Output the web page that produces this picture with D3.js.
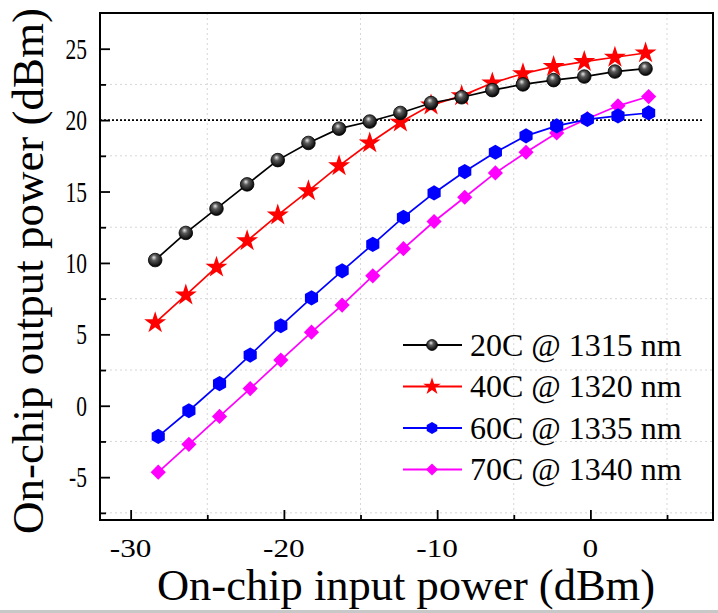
<!DOCTYPE html>
<html>
<head>
<meta charset="utf-8">
<script src="https://cdn.jsdelivr.net/npm/d3@7"></script>
<style>
    body { margin: 0; background: #fff; }
    svg text { font-family: "Liberation Serif", "DejaVu Serif", serif; fill: #000; }
</style>
</head>
<body>
<svg id="chart" width="718" height="613"></svg>
<script>
// input power (dBm)
var xRedBlack = [-28.4, -26.4, -24.4, -22.4, -20.4, -18.4, -16.4, -14.4, -12.4, -10.4, -8.4, -6.4, -4.4, -2.4, -0.4, 1.6, 3.6];
var xBlueMag = [-28.2, -26.2, -24.2, -22.2, -20.2, -18.2, -16.2, -14.2, -12.2, -10.2, -8.2, -6.2, -4.2, -2.2, -0.2, 1.8, 3.8];

// output power (dBm)
var y20C = [10.2, 12.1, 13.8, 15.5, 17.2, 18.4, 19.4, 19.9, 20.5, 21.2, 21.6, 22.1, 22.5, 22.8, 23.05, 23.4, 23.6];
var y40C = [5.8, 7.75, 9.7, 11.55, 13.35, 15.05, 16.8, 18.4, 19.85, 21.05, 21.7, 22.6, 23.25, 23.75, 24.1, 24.4, 24.7];
var y60C = [-2.15, -0.35, 1.55, 3.55, 5.6, 7.55, 9.45, 11.3, 13.2, 14.9, 16.4, 17.75, 18.9, 19.6, 20.05, 20.3, 20.5];
var y70C = [-4.65, -2.7, -0.75, 1.2, 3.2, 5.15, 7.05, 9.1, 11.0, 12.9, 14.6, 16.3, 17.75, 19.1, 20.1, 21.0, 21.65];

var seriesNames = ['20C @ 1315 nm', '40C @ 1320 nm', '60C @ 1335 nm', '70C @ 1340 nm'];
var seriesColors = ['#000000', '#ff0000', '#0000ff', '#ff00ff'];
var seriesMarkers = ['ball', 'star', 'hex', 'diamond'];

var xTicks = [-30, -20, -10, 0];
var yTicks = [-5, 0, 5, 10, 15, 20, 25];
var refLevel = 20;

var series = [
    { name: seriesNames[0], xs: xRedBlack, ys: y20C },
    { name: seriesNames[1], xs: xRedBlack, ys: y40C },
    { name: seriesNames[2], xs: xBlueMag, ys: y60C },
    { name: seriesNames[3], xs: xBlueMag, ys: y70C }
];

var svg = d3.select('#chart');
var box = { left: 100, right: 713, top: 13, bottom: 520 };

var x = d3.scaleLinear().domain([-32, 8]).range([box.left, box.right]);
var y = d3.scaleLinear().domain([-8, 27.5]).range([box.bottom, box.top]);

// gradient for the shiny black balls
var defs = svg.append('defs');
var grad = defs.append('radialGradient')
    .attr('id', 'ballGrad')
    .attr('cx', '45%').attr('cy', '40%').attr('r', '60%')
    .attr('fx', '40%').attr('fy', '30%');
grad.append('stop').attr('offset', '0%').attr('stop-color', '#e8e8e8');
grad.append('stop').attr('offset', '35%').attr('stop-color', '#5a5a5a');
grad.append('stop').attr('offset', '100%').attr('stop-color', '#000');

// dotted grid on the half-steps
var xGrid = d3.range(-25, 8, 10);
var yGrid = d3.range(-7.5, 27, 5);
svg.append('g').selectAll('line.gx')
    .data(xGrid).enter().append('line')
    .attr('x1', function(d) { return x(d); }).attr('x2', function(d) { return x(d); })
    .attr('y1', box.top).attr('y2', box.bottom)
    .attr('stroke', '#d6d6d6').attr('stroke-width', 1).attr('stroke-dasharray', '2,3');
svg.append('g').selectAll('line.gy')
    .data(yGrid).enter().append('line')
    .attr('y1', function(d) { return y(d); }).attr('y2', function(d) { return y(d); })
    .attr('x1', box.left).attr('x2', box.right)
    .attr('stroke', '#d6d6d6').attr('stroke-width', 1).attr('stroke-dasharray', '2,3');

// 20 dBm reference line
svg.append('line')
    .attr('x1', box.left).attr('x2', 703)
    .attr('y1', y(refLevel)).attr('y2', y(refLevel))
    .attr('stroke', '#000').attr('stroke-width', 1.6).attr('stroke-dasharray', '2,2');

// ticks point inward, minor ones shorter
var xAxis = d3.axisTop(x).tickValues(d3.range(-30, 8, 5)).tickSize(0).tickFormat('');
var gx = svg.append('g').attr('transform', 'translate(0,' + box.bottom + ')').call(xAxis);
gx.select('.domain').remove();
gx.selectAll('.tick line')
    .attr('y2', function(d) { return d % 10 === 0 ? -10 : -5; })
    .attr('stroke', '#000').attr('stroke-width', 1.8);

var yAxis = d3.axisRight(y).tickValues(d3.range(-7.5, 27, 2.5)).tickSize(0).tickFormat('');
var gy = svg.append('g').attr('transform', 'translate(' + box.left + ',0)').call(yAxis);
gy.select('.domain').remove();
gy.selectAll('.tick line')
    .attr('x2', function(d) { return d % 5 === 0 ? 10 : 6; })
    .attr('stroke', '#000').attr('stroke-width', 1.8);

// tick labels (stretched like the original)
svg.append('g').selectAll('text')
    .data(xTicks).enter().append('text')
    .attr('transform', function(d) { return 'translate(' + x(d) + ',557) scale(1.25,1)'; })
    .attr('text-anchor', 'middle')
    .style('font-size', '25px')
    .text(function(d) { return d; });

svg.append('g').selectAll('text')
    .data(yTicks).enter().append('text')
    .attr('transform', function(d) { return 'translate(87,' + (y(d) + 10) + ') scale(0.74,1)'; })
    .attr('text-anchor', 'end')
    .style('font-size', '29px')
    .text(function(d) { return d; });

// frame
svg.append('rect')
    .attr('x', box.left).attr('y', box.top)
    .attr('width', box.right - box.left).attr('height', box.bottom - box.top)
    .attr('fill', 'none').attr('stroke', '#000').attr('stroke-width', 2);

// axis titles
svg.append('text')
    .attr('x', 406).attr('y', 600)
    .attr('text-anchor', 'middle')
    .style('font-size', '44.5px')
    .text('On-chip input power (dBm)');

svg.append('text')
    .attr('transform', 'translate(43,271) rotate(-90)')
    .attr('text-anchor', 'middle')
    .style('font-size', '45px')
    .text('On-chip output power (dBm)');

// marker drawing
function drawMarker (g, type, color, s) {
    if (type === 'ball') {
        g.append('circle').attr('r', 6.8 * s)
            .attr('fill', 'url(#ballGrad)').attr('stroke', '#000').attr('stroke-width', 0.8);
    } else if (type === 'star') {
        g.append('path')
            .attr('d', d3.symbol().type(d3.symbolStar).size(150 * s * s)())
            .attr('fill', color);
    } else if (type === 'hex') {
        var r = 7.6 * s, pts = [];
        for (var i = 0; i < 6; i++) {
            var a = Math.PI / 3 * i - Math.PI / 2;
            pts.push([r * Math.cos(a), r * Math.sin(a)]);
        }
        g.append('path').attr('d', 'M' + pts.join('L') + 'Z').attr('fill', color);
    } else {
        var h = 7.6 * s;
        g.append('path')
            .attr('d', 'M0,' + (-h) + 'L' + h + ',0L0,' + h + 'L' + (-h) + ',0Z')
            .attr('fill', color);
    }
}

var line = d3.line()
    .x(function(d) { return x(d[0]); })
    .y(function(d) { return y(d[1]); });

// draw series (last first so black sits on top)
series.slice().reverse().forEach(function(s, ri) {
    var k = series.length - 1 - ri;
    var pts = s.xs.map(function(v, i) { return [v, s.ys[i]]; });
    svg.append('path')
        .datum(pts)
        .attr('d', line)
        .attr('fill', 'none')
        .attr('stroke', seriesColors[k])
        .attr('stroke-width', 1.7);
    svg.append('g').selectAll('g')
        .data(pts).enter().append('g')
        .attr('transform', function(d) { return 'translate(' + x(d[0]) + ',' + y(d[1]) + ')'; })
        .each(function() { drawMarker(d3.select(this), seriesMarkers[k], seriesColors[k], 1); });
});

// legend
var legend = svg.append('g');
series.forEach(function(s, i) {
    var ly = 345 + i * 41.5;
    legend.append('line')
        .attr('x1', 403).attr('x2', 462)
        .attr('y1', ly).attr('y2', ly)
        .attr('stroke', seriesColors[i]).attr('stroke-width', 1.8);
    var mg = legend.append('g').attr('transform', 'translate(432,' + ly + ')');
    drawMarker(mg, seriesMarkers[i], seriesColors[i], 0.8);
    legend.append('text')
        .attr('x', 470).attr('y', ly + 10.5)
        .style('font-size', '32px')
        .text(s.name);
});

// thin grey edge at the bottom of the original screenshot
svg.append('line')
    .attr('x1', 0).attr('x2', 718).attr('y1', 611.5).attr('y2', 611.5)
    .attr('stroke', '#c8c8c8').attr('stroke-width', 3);
</script>
</body>
</html>
